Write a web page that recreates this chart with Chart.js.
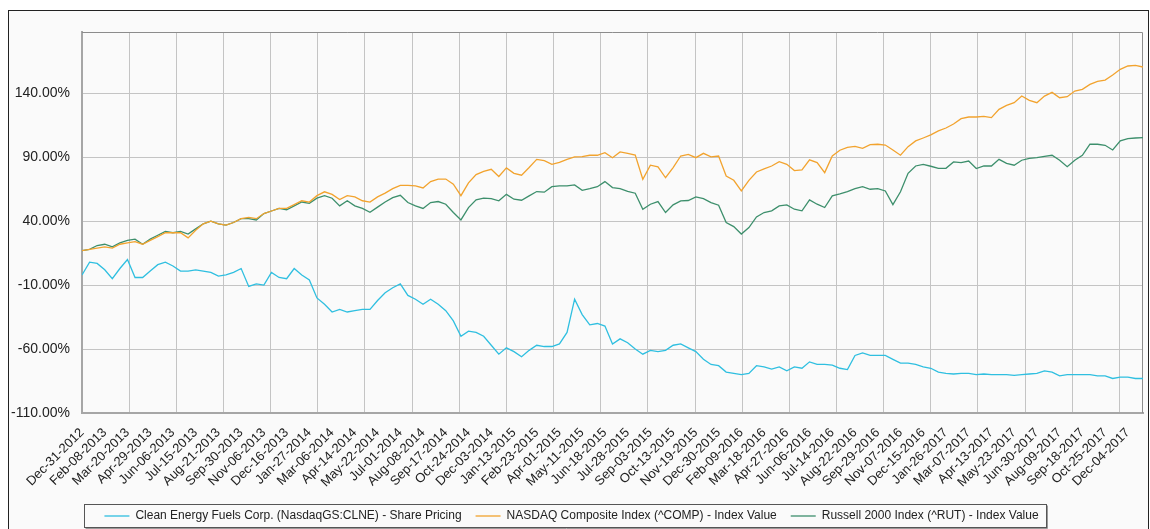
<!DOCTYPE html>
<html>
<head>
<meta charset="utf-8">
<script src="https://cdn.jsdelivr.net/npm/chart.js@4"></script>
<style>
  html, body { margin: 0; padding: 0; background: #ffffff; }
  #frame { position: absolute; left: 8px; top: 10px; width: 1139px; height: 530px; border: 1px solid #222; background: #fafafa; }
  #wrap { position: absolute; left: 0; top: 0; width: 1150px; height: 529px; }
</style>
</head>
<body>
<div id="frame"></div>
<div id="wrap"><canvas id="c" width="1150" height="529"></canvas></div>
<script>
// ---- Data ----
const tickDates = ["Dec-31-2012","Feb-08-2013","Mar-20-2013","Apr-29-2013","Jun-06-2013","Jul-15-2013","Aug-21-2013","Sep-30-2013","Nov-06-2013","Dec-16-2013","Jan-27-2014","Mar-06-2014","Apr-14-2014","May-22-2014","Jul-01-2014","Aug-08-2014","Sep-17-2014","Oct-24-2014","Dec-03-2014","Jan-13-2015","Feb-23-2015","Apr-01-2015","May-11-2015","Jun-18-2015","Jul-28-2015","Sep-03-2015","Oct-13-2015","Nov-19-2015","Dec-30-2015","Feb-09-2016","Mar-18-2016","Apr-27-2016","Jun-06-2016","Jul-14-2016","Aug-22-2016","Sep-29-2016","Nov-07-2016","Dec-15-2016","Jan-26-2017","Mar-07-2017","Apr-13-2017","May-23-2017","Jun-30-2017","Aug-09-2017","Sep-18-2017","Oct-25-2017","Dec-04-2017"];
const tradingDaysPerLabel = 27;   // one tick label every 27 trading days
const tradingDaysPerGrid = 56;    // one vertical grid line every 56 trading days
const tradingDaysPerSample = 9;   // values below are read every 9 trading days
const lastDay = 1260;

const yTicks = [-110, -60, -10, 40, 90, 140];

const clne = [-2,8,7,2,-5,3,10,-4,-4,1,6,8,5,1,1,2,1,0,-3,-2,0,3,-11,-9,-10,0,-4,-5,3,-2,
  -6,-20,-25,-31,-29,-31,-30,-29,-29,-22,-16,-12,-9,-18,-21,-25,-21,-25,-30,-38,
  -50,-46,-47,-50,-57,-64,-59,-62,-66,-61,-57,-58,-58,-56,-47,-21,-33,-41,-40,-42,
  -56,-52,-55,-60,-64,-61,-62,-61,-57,-56,-59,-62,-68,-72,-73,-78,-79,-80,-79,-73,
  -74,-75.6,-74,-77,-74,-75,-70,-72,-72,-72.5,-75,-76,-65,-63,-65,-65,-65,-68,-71,-71,
  -72,-74,-75,-78,-79,-79.5,-79,-79,-80,-79.5,-80,-80,-80,-80.5,-80,-79.5,-79,-77,-78,-81,
  -80,-80,-80,-80,-81,-81,-83,-82,-82,-83,-83];

const nasdaq = [17,18,19,20,19,22,23,24,22,25,28,31,31,31,27,33,38,40,38,37,39,42,43,42,46,48,50,50,53,56,
  55,60,63,61,57,60,59,56,55,59,62,65.5,68,68,67.6,66,71,73,73,69,
  60,70,76.5,79,80.6,75,81.7,77.5,76,82,88.4,87.4,84.5,86,88.4,90.3,90.5,91.6,91.6,93.6,
  89.7,94.2,93.1,91.8,72.8,83.8,82.5,74,82,91,92.3,89.7,93.1,90.3,91,75.4,72,63.7,72,78.5,
  81,83.2,86.6,84.5,79.6,80.1,88,85.8,78,91,95.5,97.8,98.6,97,99.9,100.2,99.6,95.7,91.6,98.3,
  102.8,105.1,107.5,110.6,112.9,116,120.2,121.5,121.5,122,121,127.5,130.6,132.7,137.9,134.5,132.7,137.9,140.8,136.6,
  137.4,141.8,143.1,147,149.4,150.4,154.3,158.8,161.4,161.9,160.6];

const russell = [17,18,21,22,20,23,25,26,22,26,29,32,31,32,30,34,38,40,38,37,39,42,42,41,46,48,50,49,52,55,
  54,58,60,58,52,56,52,50,47,51,55,58.5,60.3,54.6,52,50,54.6,55.4,53.3,46.8,
  41,50.7,56.7,58,57.7,56,61,57.2,56.4,59.8,63.2,62.7,67,67.6,67.6,68.4,64.2,65.5,67,71,
  66.3,65.5,63.4,61.9,49.4,53.3,55.4,46.8,52.8,55.9,56.2,59,57.7,54.6,52.5,39,35.8,30,35,43.4,
  46.8,48.1,52,52.8,49.4,48.1,56.7,53.3,50.7,59.8,61.4,63.2,65.5,67,65,65.5,63.7,53,63,77.5,
  83.2,84.5,83,81.4,81.4,86.4,85.8,87.1,81.2,83.2,83.2,88.4,85.3,83.8,87.7,89.2,89.7,90.8,91.6,87.7,
  82.7,87.7,91.6,100.2,100.2,99.4,95.7,102.8,104.6,105.1,105.4];

const seriesNames = [
  "Clean Energy Fuels Corp. (NasdaqGS:CLNE) - Share Pricing",
  "NASDAQ Composite Index (^COMP) - Index Value",
  "Russell 2000 Index (^RUT) - Index Value"
];
const seriesColors = ["#2fbfe0", "#f2a32e", "#3d8f6c"];

// ---- Build chart ----
const toPoints = arr => arr.map((v, i) => ({ x: i * tradingDaysPerSample, y: v }));
const bottomPad = -3;

const frameAndLegendBox = {
  id: 'frameAndLegendBox',
  beforeDatasetsDraw(chart) {
    const a = chart.chartArea, ctx = chart.ctx;
    ctx.save();
    ctx.strokeStyle = '#8c8c8c';
    ctx.lineWidth = 1;
    ctx.beginPath();
    ctx.moveTo(a.left, a.top + 0.5);
    ctx.lineTo(a.right - 0.5, a.top + 0.5);
    ctx.lineTo(a.right - 0.5, a.bottom);
    ctx.stroke();
    ctx.restore();
  },
  afterDraw(chart) {
    const lg = chart.legend;
    if (!lg || !lg.legendHitBoxes || !lg.legendHitBoxes.length) return;
    const hb = lg.legendHitBoxes;
    let l = Infinity, r = -Infinity, t = Infinity, b = -Infinity;
    hb.forEach(h => { l = Math.min(l, h.left); r = Math.max(r, h.left + h.width); t = Math.min(t, h.top); b = Math.max(b, h.top + h.height); });
    const ctx = chart.ctx;
    ctx.save();
    const x0 = Math.round(l - 20) + 0.5, x1 = Math.round(r + 7) + 0.5;
    const y0 = Math.round(t - 6) + 0.5, y1 = Math.round(b + 5) + 0.5;
    ctx.strokeStyle = '#555';
    ctx.lineWidth = 1;
    ctx.strokeRect(x0, y0, x1 - x0, y1 - y0);
    ctx.strokeStyle = '#999';
    ctx.beginPath();
    ctx.moveTo(x0 + 1, y1 + 1); ctx.lineTo(x1 + 1, y1 + 1); ctx.lineTo(x1 + 1, y0 + 1);
    ctx.stroke();
    ctx.restore();
  }
};

Chart.defaults.font.family = "'Liberation Sans', Arial, sans-serif";
Chart.defaults.color = '#222';

new Chart(document.getElementById('c'), {
  type: 'line',
  data: {
    datasets: [clne, nasdaq, russell].map((arr, k) => ({
      label: seriesNames[k],
      data: toPoints(arr),
      borderColor: seriesColors[k],
      backgroundColor: seriesColors[k],
      borderWidth: 1.3,
      pointRadius: 0,
      tension: 0,
      fill: false,
      pointStyle: 'line'
    }))
  },
  options: {
    responsive: false,
    animation: false,
    layout: { padding: { left: 0, right: 7, top: 32, bottom: bottomPad } },
    plugins: {
      tooltip: { enabled: false },
      legend: {
        position: 'bottom',
        labels: {
          usePointStyle: true,
          pointStyleWidth: 25,
          boxHeight: 12,
          padding: 14,
          font: { size: 12 },
          color: '#222'
        }
      }
    },
    scales: {
      x: {
        type: 'linear',
        min: 0, max: lastDay,
        position: 'bottom',
        afterBuildTicks: s => { s.ticks = tickDates.map((_, k) => ({ value: k * tradingDaysPerLabel })); },
        afterFit: s => {
          const lh = s.chart.legend ? s.chart.legend.height : 40;
          s.height = 529 - bottomPad - lh - 413;
        },
        grid: { display: false },
        border: { display: true, color: '#a6a6a6', width: 2 },
        ticks: {
          autoSkip: false,
          minRotation: 45, maxRotation: 45,
          padding: 4,
          font: { size: 13 },
          color: '#222',
          callback: v => tickDates[Math.round(v / tradingDaysPerLabel)]
        }
      },
      xg: {
        type: 'linear',
        min: 0, max: lastDay,
        position: 'bottom',
        afterBuildTicks: s => {
          const t = [];
          for (let d = 0; d <= lastDay - tradingDaysPerGrid / 2; d += tradingDaysPerGrid) t.push({ value: d });
          s.ticks = t;
        },
        afterFit: s => { s.height = 0; },
        grid: { color: '#c4c4c4', lineWidth: 1, drawTicks: false },
        border: { display: false },
        ticks: { display: false }
      },
      y: {
        min: -110, max: 188,
        afterBuildTicks: s => { s.ticks = yTicks.map(v => ({ value: v })); },
        afterFit: s => { s.width = 82; },
        grid: { color: '#c4c4c4', lineWidth: 1, drawTicks: false },
        border: { display: true, color: '#a6a6a6', width: 2 },
        ticks: {
          padding: 12,
          font: { size: 14 },
          color: '#222',
          callback: v => v.toFixed(2) + '%'
        }
      }
    }
  },
  plugins: [frameAndLegendBox]
});
</script>
</body>
</html>
